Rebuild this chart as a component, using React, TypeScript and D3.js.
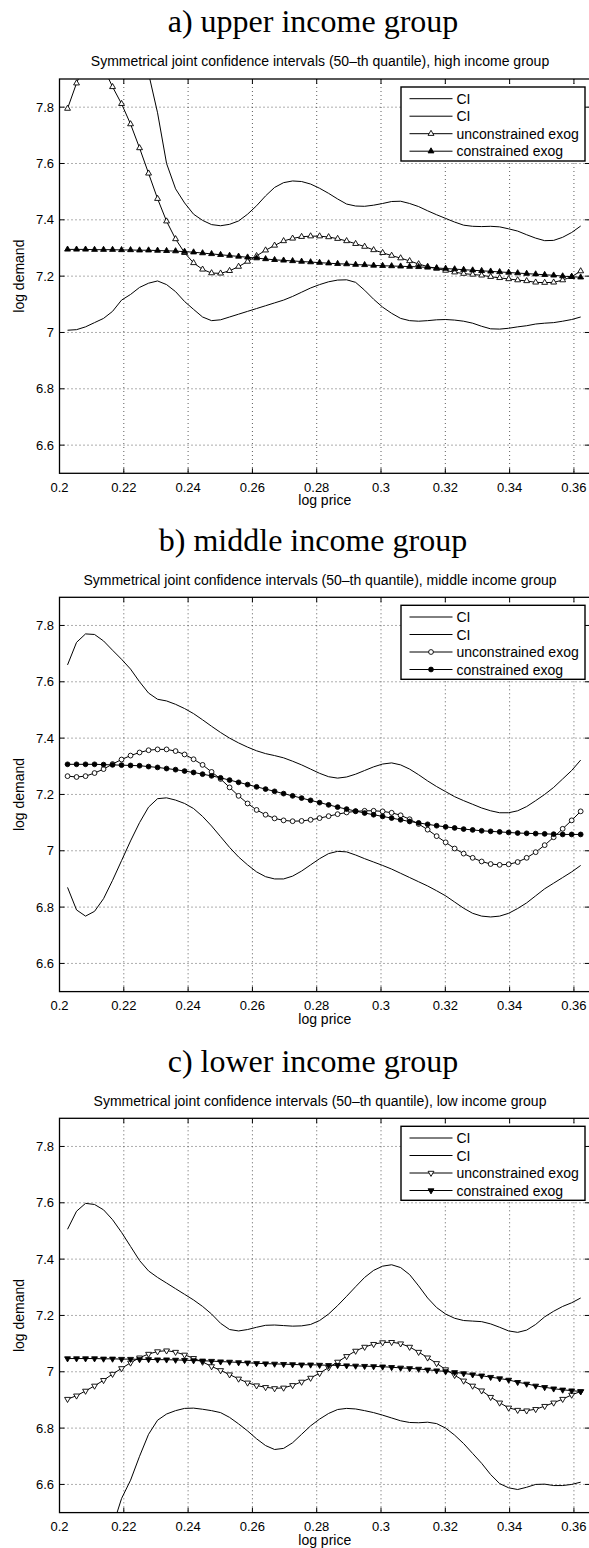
import * as d3 from "d3"

// sample grid of log price (every curve shares it)
const price = [
  0.2025, 0.2053, 0.2081, 0.2109, 0.2137, 0.2165, 0.2193, 0.2221, 0.2249, 0.2277,
  0.2305, 0.2333, 0.2361, 0.2389, 0.2417, 0.2445, 0.2473, 0.2501, 0.2529, 0.2557,
  0.2585, 0.2613, 0.2641, 0.2669, 0.2697, 0.2725, 0.2753, 0.2781, 0.2809, 0.2837,
  0.2865, 0.2893, 0.2921, 0.2949, 0.2977, 0.3005, 0.3033, 0.3061, 0.3089, 0.3117,
  0.3145, 0.3173, 0.3201, 0.3229, 0.3257, 0.3285, 0.3313, 0.3341, 0.3369, 0.3397,
  0.3425, 0.3453, 0.3481, 0.3509, 0.3537, 0.3565, 0.3593, 0.3621,
]

const xTicks = [0.2, 0.22, 0.24, 0.26, 0.28, 0.3, 0.32, 0.34, 0.36]
const yTicks = [6.6, 6.8, 7, 7.2, 7.4, 7.6, 7.8]
const legendLabels = ["CI", "CI", "unconstrained exog", "constrained exog"]

// a) upper income group
const highUpperCI = [
  9.0, 8.85, 8.7, 8.55, 8.4, 8.28, 8.15, 8.05, 7.97, 7.92,
  7.78, 7.6, 7.51, 7.46, 7.42, 7.398, 7.383, 7.379, 7.384, 7.396,
  7.42, 7.45, 7.485, 7.515, 7.532, 7.538, 7.536, 7.527, 7.512, 7.494,
  7.474, 7.456, 7.449, 7.448, 7.452, 7.458, 7.465, 7.466, 7.458, 7.447,
  7.432, 7.418, 7.405, 7.392, 7.381, 7.377, 7.376, 7.377, 7.375, 7.368,
  7.36, 7.347, 7.335, 7.326, 7.327, 7.338, 7.355, 7.378,
]
const highLowerCI = [
  7.008, 7.01, 7.02, 7.035, 7.05, 7.075, 7.115, 7.135, 7.16, 7.175,
  7.183, 7.17, 7.145, 7.11, 7.082, 7.055, 7.042, 7.045, 7.055, 7.065,
  7.075, 7.085, 7.095, 7.105, 7.115, 7.128, 7.143, 7.158, 7.17, 7.18,
  7.186, 7.187, 7.178, 7.15, 7.118, 7.09, 7.068, 7.05, 7.042, 7.04,
  7.042, 7.045, 7.046, 7.044, 7.04, 7.033, 7.022, 7.013, 7.012, 7.015,
  7.02, 7.024, 7.03, 7.033, 7.035, 7.04, 7.046, 7.055,
]
const highUncon = [
  7.795, 7.885, 7.96, 7.97, 7.94, 7.872, 7.812, 7.74, 7.655, 7.565,
  7.475, 7.395, 7.332, 7.283, 7.247, 7.224, 7.211, 7.21, 7.219, 7.234,
  7.252, 7.272, 7.292, 7.309, 7.325, 7.334, 7.34, 7.342, 7.342, 7.339,
  7.333, 7.325, 7.315, 7.305, 7.293, 7.283, 7.273, 7.264, 7.254, 7.243,
  7.234, 7.227, 7.22, 7.214, 7.209, 7.206, 7.203, 7.198, 7.194, 7.19,
  7.186, 7.183, 7.178, 7.177, 7.178, 7.186, 7.198, 7.218,
]
const highCon = [
  7.295, 7.295, 7.295, 7.294, 7.294, 7.294, 7.293, 7.293, 7.292, 7.292,
  7.291, 7.29, 7.289, 7.287, 7.285, 7.282, 7.279, 7.276, 7.273, 7.27,
  7.267, 7.264, 7.261, 7.258, 7.256, 7.254, 7.252, 7.25, 7.248, 7.246,
  7.244, 7.243, 7.241, 7.24, 7.238, 7.237, 7.236, 7.235, 7.234, 7.233,
  7.231, 7.229, 7.227, 7.225, 7.223, 7.221, 7.219, 7.217, 7.215, 7.213,
  7.211, 7.209, 7.207, 7.205, 7.203, 7.2, 7.198, 7.196,
]

// b) middle income group
const midUpperCI = [
  7.66, 7.74, 7.77, 7.768, 7.745, 7.712, 7.68, 7.645, 7.6, 7.56,
  7.538, 7.532, 7.52, 7.505, 7.487, 7.465, 7.442, 7.42, 7.4, 7.383,
  7.368, 7.355, 7.345, 7.338, 7.33, 7.318, 7.305, 7.29, 7.275, 7.263,
  7.258, 7.262, 7.272, 7.285, 7.298, 7.308, 7.312, 7.305, 7.29, 7.27,
  7.248, 7.228, 7.21, 7.192, 7.178, 7.165, 7.152, 7.142, 7.135, 7.135,
  7.142, 7.157, 7.178, 7.2, 7.225, 7.255, 7.285, 7.322,
]
const midLowerCI = [
  6.87, 6.79, 6.768, 6.785, 6.83, 6.895, 6.965, 7.035, 7.1, 7.155,
  7.185, 7.188, 7.18, 7.168, 7.15, 7.122, 7.088, 7.05, 7.012, 6.978,
  6.95, 6.925, 6.908, 6.9, 6.9, 6.91, 6.928, 6.95, 6.972, 6.99,
  6.998, 6.996, 6.985, 6.972, 6.96, 6.948, 6.935, 6.92, 6.905, 6.89,
  6.875, 6.858, 6.84, 6.818, 6.796, 6.778, 6.768, 6.765, 6.768, 6.778,
  6.795, 6.815, 6.84, 6.865, 6.885, 6.905, 6.925, 6.948,
]
const midUncon = [
  7.265, 7.262, 7.265, 7.276, 7.29, 7.308, 7.324, 7.338, 7.349, 7.357,
  7.36, 7.36, 7.354, 7.342, 7.325, 7.305, 7.28, 7.255, 7.225, 7.195,
  7.168, 7.145, 7.128, 7.115, 7.108, 7.105, 7.106, 7.11, 7.116, 7.123,
  7.13, 7.136, 7.14, 7.142, 7.142, 7.14, 7.135, 7.126, 7.112, 7.095,
  7.075, 7.052, 7.03, 7.008, 6.99, 6.975, 6.962, 6.953, 6.95, 6.952,
  6.96, 6.975, 6.995, 7.02, 7.048, 7.078, 7.108, 7.14,
]
const midCon = [
  7.307, 7.307, 7.307, 7.307, 7.306, 7.305, 7.304, 7.303, 7.302, 7.299,
  7.296, 7.292, 7.288, 7.283, 7.278, 7.272, 7.266, 7.259, 7.251, 7.243,
  7.235, 7.227, 7.219, 7.211, 7.203, 7.195, 7.187, 7.179, 7.171, 7.163,
  7.155, 7.148, 7.141, 7.134, 7.128, 7.122, 7.116, 7.11, 7.104, 7.099,
  7.094, 7.089, 7.085, 7.081, 7.077, 7.074, 7.071, 7.069, 7.067, 7.065,
  7.063, 7.062, 7.061, 7.06, 7.059, 7.058, 7.058, 7.058,
]

// c) lower income group
const lowUpperCI = [
  7.506, 7.57, 7.598, 7.594, 7.575, 7.54, 7.495, 7.445, 7.395, 7.358,
  7.335, 7.315, 7.295, 7.275, 7.255, 7.232, 7.205, 7.172, 7.15, 7.145,
  7.15, 7.158, 7.165, 7.166, 7.164, 7.162, 7.163, 7.168, 7.182, 7.205,
  7.235, 7.268, 7.302, 7.335, 7.36, 7.375, 7.38, 7.37, 7.345, 7.305,
  7.262, 7.228, 7.205, 7.19, 7.182, 7.18, 7.178, 7.17, 7.158, 7.145,
  7.14, 7.148, 7.168, 7.195, 7.215, 7.232, 7.245, 7.262,
]
const lowLowerCI = [
  5.95, 6.02, 6.1, 6.2, 6.32, 6.45, 6.55, 6.615, 6.7, 6.778,
  6.828, 6.85, 6.862, 6.87, 6.871, 6.867, 6.862, 6.855, 6.838, 6.815,
  6.79, 6.762, 6.738, 6.724, 6.728, 6.748, 6.778, 6.808, 6.832, 6.852,
  6.866, 6.87, 6.868, 6.862, 6.855, 6.846, 6.836, 6.826, 6.82, 6.819,
  6.821, 6.816, 6.8, 6.775, 6.745, 6.71, 6.675, 6.635, 6.603, 6.588,
  6.582, 6.59, 6.6, 6.601, 6.596, 6.596, 6.6, 6.608,
]
const lowUncon = [
  6.903, 6.915, 6.932, 6.95, 6.97, 6.992, 7.012, 7.032, 7.05, 7.063,
  7.072, 7.075, 7.07, 7.06, 7.048, 7.035, 7.019, 7.005, 6.99, 6.975,
  6.961, 6.951, 6.945, 6.941, 6.943, 6.952, 6.964, 6.978, 6.995, 7.015,
  7.035, 7.055, 7.074, 7.088, 7.098, 7.104, 7.105, 7.1, 7.088, 7.07,
  7.05, 7.03, 7.008, 6.988, 6.968, 6.95, 6.933, 6.91, 6.89, 6.872,
  6.864, 6.862, 6.867, 6.878, 6.89, 6.903, 6.918, 6.93,
]
const lowCon = [
  7.047, 7.047, 7.047, 7.047, 7.046, 7.046, 7.045, 7.045, 7.044, 7.044,
  7.043, 7.043, 7.042, 7.041, 7.04, 7.039, 7.038, 7.036, 7.035, 7.033,
  7.032, 7.03, 7.029, 7.028, 7.027, 7.026, 7.025, 7.025, 7.024, 7.023,
  7.023, 7.022, 7.021, 7.02, 7.019, 7.018, 7.016, 7.014, 7.012, 7.01,
  7.007, 7.004, 7.001, 6.998, 6.994, 6.99, 6.986, 6.981, 6.976, 6.971,
  6.963, 6.957, 6.95, 6.945, 6.94, 6.936, 6.933, 6.93,
]

const SANS = "'Liberation Sans', Arial, Helvetica, sans-serif"
const SERIF = "'Liberation Serif', 'Times New Roman', serif"

const LEFT = 59.5
const RIGHT = 590
const PLOT_H = 394.3

type MarkerKind = "triUp" | "circle" | "triDown"

const Marker = ({ kind, cx, cy, filled }: { kind: MarkerKind; cx: number; cy: number; filled: boolean }) => {
  const fill = filled ? "#000" : "#fff"
  if (kind === "circle") {
    return <circle cx={cx} cy={cy} r={2.4} fill={fill} stroke="#000" strokeWidth={0.9} />
  }
  const d = d3.symbol().type(d3.symbolTriangle).size(15)() as string
  const rot = kind === "triDown" ? 180 : 0
  return (
    <path d={d} transform={`translate(${cx},${cy}) rotate(${rot})`} fill={fill} stroke="#000" strokeWidth={0.9} />
  )
}

interface PanelProps {
  id: string
  top: number
  heading: string
  subtitle: string
  upper: number[]
  lower: number[]
  uncon: number[]
  con: number[]
  marker: MarkerKind
}

const Panel = ({ id, top, heading, subtitle, upper, lower, uncon, con, marker }: PanelProps) => {
  const x = d3.scaleLinear().domain([0.2, 0.365]).range([LEFT, RIGHT])
  const y = d3.scaleLinear().domain([6.5, 7.9]).range([top + PLOT_H, top])
  const bottom = top + PLOT_H
  const line = d3
    .line<number>()
    .x((_, i) => x(price[i]))
    .y((d) => y(d))

  const fmt = (v: number, p: number) => String(+v.toFixed(p))

  const lgX = 401
  const lgY = top + 8
  // row centres measured from the legend box top
  const rows = [11.7, 29.2, 46.7, 64.2]

  return (
    <g>
      <defs>
        <clipPath id={id}>
          <rect x={LEFT} y={top} width={RIGHT - LEFT} height={PLOT_H} />
        </clipPath>
      </defs>

      <text x={313} y={top - 46.6} textAnchor="middle" fontFamily={SERIF} fontSize={32}>
        {heading}
      </text>
      <text x={320} y={top - 12.6} textAnchor="middle" fontFamily={SANS} fontSize={14}>
        {subtitle}
      </text>

      {/* grid */}
      <g stroke="#333" strokeWidth={0.8} strokeDasharray="1,3">
        {xTicks.slice(1).map((t) => (
          <line key={t} x1={x(t)} x2={x(t)} y1={top} y2={bottom} />
        ))}
        {yTicks.map((t) => (
          <line key={t} x1={LEFT} x2={RIGHT} y1={y(t)} y2={y(t)} />
        ))}
      </g>

      {/* ticks, inward on all four sides */}
      <g stroke="#000" strokeWidth={1}>
        {xTicks.map((t) => (
          <g key={t}>
            <line x1={x(t)} x2={x(t)} y1={bottom} y2={bottom - 5} />
            <line x1={x(t)} x2={x(t)} y1={top} y2={top + 5} />
          </g>
        ))}
        {yTicks.map((t) => (
          <g key={t}>
            <line x1={LEFT} x2={LEFT + 5} y1={y(t)} y2={y(t)} />
            <line x1={RIGHT} x2={RIGHT - 5} y1={y(t)} y2={y(t)} />
          </g>
        ))}
      </g>

      <g fontFamily={SANS} fontSize={13} fill="#000">
        {xTicks.map((t) => (
          <text key={t} x={x(t)} y={bottom + 18.2} textAnchor="middle">
            {fmt(t, 2)}
          </text>
        ))}
        {yTicks.map((t) => (
          <text key={t} x={LEFT - 5.5} y={y(t) + 4.5} textAnchor="end">
            {fmt(t, 1)}
          </text>
        ))}
      </g>
      <text x={(LEFT + RIGHT) / 2} y={bottom + 32} textAnchor="middle" fontFamily={SANS} fontSize={14}>
        log price
      </text>
      <text
        transform={`translate(24,${(top + bottom) / 2}) rotate(-90)`}
        textAnchor="middle"
        fontFamily={SANS}
        fontSize={14}
      >
        log demand
      </text>

      {/* series */}
      <g clipPath={`url(#${id})`}>
        <path d={line(upper) as string} fill="none" stroke="#000" strokeWidth={1} />
        <path d={line(lower) as string} fill="none" stroke="#000" strokeWidth={1} />
        <path d={line(uncon) as string} fill="none" stroke="#000" strokeWidth={1} />
        {uncon.map((v, i) => (
          <Marker key={`u${i}`} kind={marker} cx={x(price[i])} cy={y(v)} filled={false} />
        ))}
        <path d={line(con) as string} fill="none" stroke="#000" strokeWidth={1} />
        {con.map((v, i) => (
          <Marker key={`c${i}`} kind={marker} cx={x(price[i])} cy={y(v)} filled={true} />
        ))}
      </g>

      {/* axes box */}
      <rect x={LEFT} y={top} width={RIGHT - LEFT} height={PLOT_H} fill="none" stroke="#000" strokeWidth={1.3} />

      {/* legend */}
      <rect x={lgX} y={lgY} width={184} height={74} fill="#fff" stroke="#000" strokeWidth={1.4} />
      {legendLabels.map((lab, i) => (
        <g key={i}>
          <line x1={lgX + 8.5} x2={lgX + 51.5} y1={lgY + rows[i]} y2={lgY + rows[i]} stroke="#000" strokeWidth={1} />
          {i >= 2 && <Marker kind={marker} cx={lgX + 30} cy={lgY + rows[i]} filled={i === 3} />}
          <text x={lgX + 55.5} y={lgY + rows[i] + 5} fontFamily={SANS} fontSize={14}>
            {lab}
          </text>
        </g>
      ))}
    </g>
  )
}

export default function App() {
  return (
    <svg
      width={589}
      height={1548}
      style={{ position: "absolute", left: 0, top: 0, background: "#fff" }}
    >
      <rect width={589} height={1548} fill="#fff" />
      <Panel
        id="clipA"
        top={79}
        heading="a) upper income group"
        subtitle="Symmetrical joint confidence intervals (50–th quantile), high income group"
        upper={highUpperCI}
        lower={highLowerCI}
        uncon={highUncon}
        con={highCon}
        marker="triUp"
      />
      <Panel
        id="clipB"
        top={597.3}
        heading="b) middle income group"
        subtitle="Symmetrical joint confidence intervals (50–th quantile), middle income group"
        upper={midUpperCI}
        lower={midLowerCI}
        uncon={midUncon}
        con={midCon}
        marker="circle"
      />
      <Panel
        id="clipC"
        top={1118.3}
        heading="c) lower income group"
        subtitle="Symmetrical joint confidence intervals (50–th quantile), low income group"
        upper={lowUpperCI}
        lower={lowLowerCI}
        uncon={lowUncon}
        con={lowCon}
        marker="triDown"
      />
    </svg>
  )
}
